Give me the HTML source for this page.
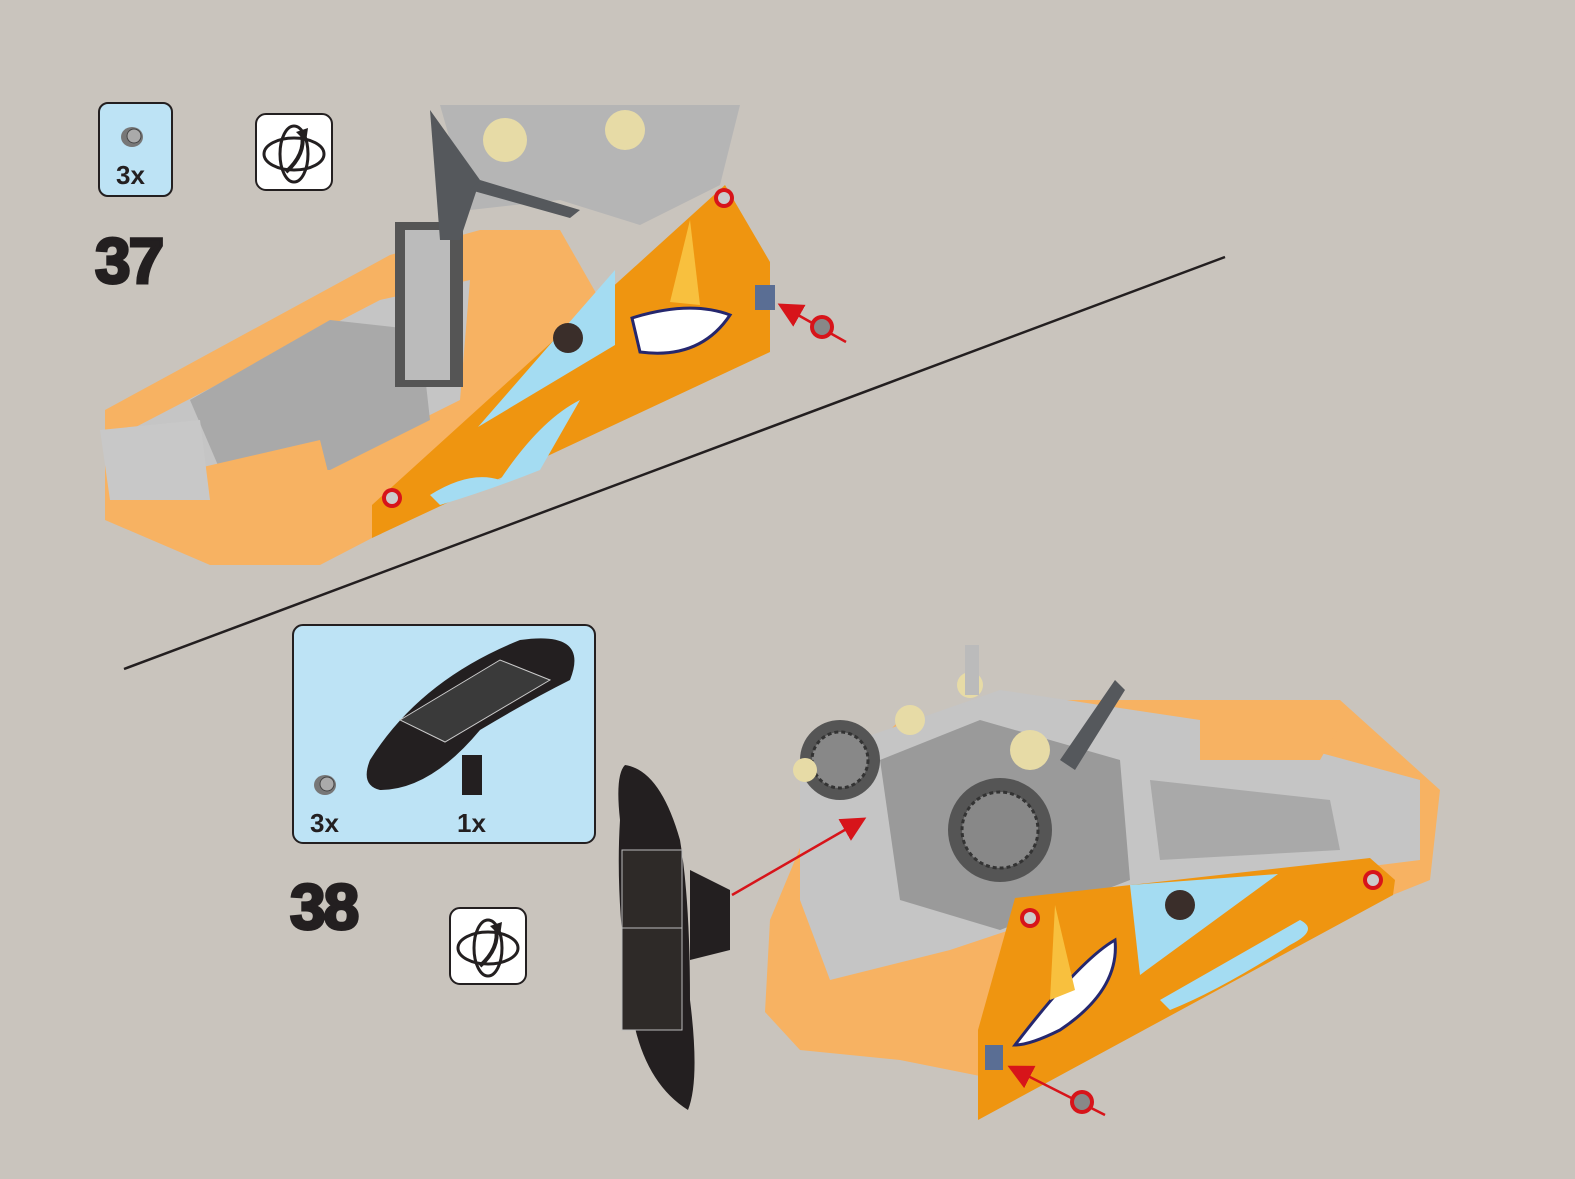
<!DOCTYPE html>
<html><head><meta charset="utf-8"><style>
html,body{margin:0;padding:0;background:#c9c4bd;}
svg{display:block}
text{font-family:"Liberation Sans",Arial,sans-serif;font-weight:bold;fill:#231f20}
</style></head><body>
<svg width="1575" height="1179" viewBox="0 0 1575 1179" xmlns="http://www.w3.org/2000/svg">
<rect width="1575" height="1179" fill="#c9c4bd"/>
<defs>
<marker id="ar" markerWidth="10" markerHeight="10" refX="8" refY="5" orient="auto"><path d="M0,0 L10,5 L0,10 z" fill="#d7141a"/></marker>
<g id="rot">
<rect x="0" y="0" width="76" height="76" rx="10" fill="#fff" stroke="#231f20" stroke-width="2"/>
<ellipse cx="38" cy="40" rx="30" ry="16" fill="none" stroke="#231f20" stroke-width="3"/>
<ellipse cx="38" cy="40" rx="14" ry="28" fill="none" stroke="#231f20" stroke-width="3"/>
<path d="M30,58 Q50,40 46,20" fill="none" stroke="#231f20" stroke-width="4"/>
<path d="M40,18 L52,14 L50,28 z" fill="#231f20"/>
</g>
<g id="bush">
<ellipse cx="0" cy="0" rx="11" ry="10" fill="#777"/>
<ellipse cx="2" cy="-1" rx="7" ry="7" fill="#aaa" stroke="#444"/>
</g>
</defs>
<line x1="124" y1="669" x2="1225" y2="257" stroke="#231f20" stroke-width="2.5"/>

<!-- Step 37 -->
<rect x="99" y="103" width="73" height="93" rx="9" fill="#bde3f5" stroke="#231f20" stroke-width="2"/>
<use href="#bush" x="132" y="137"/>
<text x="116" y="184" font-size="26">3x</text>
<use href="#rot" x="256" y="114"/>
<text x="95" y="283" font-size="64" stroke="#231f20" stroke-width="3" letter-spacing="-2">37</text>

<!-- model 37 base -->
<path d="M105,410 L390,255 L480,230 L560,230 L600,300 L372,538 L320,565 L210,565 L105,520 z" fill="#f7b262"/>
<path d="M130,430 L380,300 L470,280 L460,400 L300,480 L200,490 L130,470z" fill="#c5c5c5"/>
<path d="M190,400 L330,320 L420,330 L430,420 L330,470 L220,470z" fill="#a9a9a9"/>
<path d="M190,470 L320,440 L330,480 L260,495 L190,490z" fill="#f7b262"/>
<rect x="395" y="222" width="68" height="165" fill="#555"/>
<rect x="405" y="230" width="45" height="150" fill="#bbb"/>
<path d="M440,105 L740,105 L720,185 L640,225 L560,200 L470,210z" fill="#b5b5b5"/>
<path d="M430,110 L480,180 L460,240 L440,240z" fill="#55585c"/>
<path d="M480,180 L580,210 L570,218 L470,190z" fill="#55585c"/>
<circle cx="505" cy="140" r="22" fill="#e7dba6"/>
<circle cx="625" cy="130" r="20" fill="#e7dba6"/>
<path d="M100,430 L200,420 L210,500 L110,500z" fill="#c8c8c8"/>
<!-- orange panel 37 -->
<path d="M372,538 L372,505 L725,185 L770,262 L770,352 z" fill="#ef9510"/>
<path d="M478,427 L615,270 L615,345 z" fill="#a4dcf2"/>
<circle cx="568" cy="338" r="15" fill="#3a2e2a"/>
<path d="M632,318 Q690,300 730,315 Q700,360 640,352z" fill="#fff" stroke="#25276e" stroke-width="3"/>
<path d="M670,302 L690,220 L700,305z" fill="#f8c03e"/>
<path d="M430,495 Q470,470 500,480 Q540,420 580,400 L540,470 Q490,490 440,505z" fill="#a4dcf2"/>
<circle cx="392" cy="498" r="10" fill="#d7141a"/><circle cx="392" cy="498" r="6" fill="#ccc"/>
<circle cx="724" cy="198" r="10" fill="#d7141a"/><circle cx="724" cy="198" r="6" fill="#ccc"/>
<rect x="755" y="285" width="20" height="25" fill="#5a6e94"/>
<line x1="846" y1="342" x2="782" y2="306" stroke="#d7141a" stroke-width="2.5" marker-end="url(#ar)"/>
<circle cx="822" cy="327" r="12" fill="#d7141a"/><circle cx="822" cy="327" r="8" fill="#888"/>

<!-- Step 38 -->
<rect x="293" y="625" width="302" height="218" rx="10" fill="#bde3f5" stroke="#231f20" stroke-width="2"/>
<path d="M370,760 Q420,680 520,640 Q590,630 570,680 Q530,700 480,730 Q430,790 380,790 Q360,785 370,760z" fill="#231f20"/>
<path d="M400,720 L500,660 L550,680 L445,742z" fill="#3a3a3a" stroke="#ccc" stroke-width="1"/>
<rect x="462" y="755" width="20" height="40" fill="#231f20"/>
<use href="#bush" x="325" y="785"/>
<text x="310" y="832" font-size="26">3x</text>
<text x="457" y="832" font-size="26">1x</text>
<text x="290" y="929" font-size="64" stroke="#231f20" stroke-width="3" letter-spacing="-2">38</text>
<use href="#rot" x="450" y="908"/>

<!-- model 38 base -->
<path d="M765,1012 L770,920 L820,800 L900,720 L1050,700 L1180,700 L1340,700 L1440,790 L1430,880 L1380,900 L1000,1080 L900,1060 L800,1050z" fill="#f7b262"/>
<path d="M800,760 L1000,690 L1200,720 L1420,780 L1420,860 L1100,900 L950,950 L830,980 L800,900z" fill="#c5c5c5"/>
<path d="M880,760 L980,720 L1120,760 L1130,880 L1000,930 L900,900z" fill="#9a9a9a"/>
<path d="M1150,780 L1330,800 L1340,850 L1160,860z" fill="#a9a9a9"/>
<circle cx="840" cy="760" r="40" fill="#555"/><circle cx="840" cy="760" r="28" fill="#888" stroke="#333" stroke-width="3" stroke-dasharray="4 3"/>
<circle cx="1000" cy="830" r="52" fill="#555"/><circle cx="1000" cy="830" r="38" fill="#888" stroke="#333" stroke-width="3" stroke-dasharray="4 3"/>
<circle cx="1030" cy="750" r="20" fill="#e7dba6"/><circle cx="910" cy="720" r="15" fill="#e7dba6"/>
<circle cx="970" cy="685" r="13" fill="#e7dba6"/><circle cx="805" cy="770" r="12" fill="#e7dba6"/>
<path d="M1060,760 L1115,680 L1125,690 L1075,770z" fill="#55585c"/>
<path d="M1200,710 L1340,725 L1320,760 L1200,760z" fill="#f7b262"/>
<rect x="965" y="645" width="14" height="50" fill="#bbb"/>
<!-- solar panel -->
<path d="M625,765 Q660,770 680,840 Q690,900 690,1000 Q700,1080 688,1110 Q640,1080 630,1000 Q615,900 620,820 Q615,775 625,765z" fill="#231f20"/>
<rect x="622" y="850" width="60" height="180" fill="#2e2a28" stroke="#bbb" stroke-width="1"/>
<line x1="622" y1="928" x2="682" y2="928" stroke="#bbb"/>
<path d="M690,870 L730,890 L730,950 L690,960z" fill="#231f20"/>
<line x1="732" y1="895" x2="862" y2="820" stroke="#d7141a" stroke-width="2.5" marker-end="url(#ar)"/>
<!-- orange panel 38 -->
<path d="M978,1120 L978,1030 L1015,898 L1370,858 L1395,880 L1393,895 z" fill="#ef9510"/>
<path d="M1130,885 L1278,874 L1140,975z" fill="#a4dcf2"/>
<circle cx="1180" cy="905" r="15" fill="#3a2e2a"/>
<path d="M1015,1045 Q1080,960 1115,940 Q1120,990 1060,1030 Q1030,1045 1015,1045z" fill="#fff" stroke="#25276e" stroke-width="3"/>
<path d="M1050,1000 L1055,905 L1075,990z" fill="#f8c03e"/>
<path d="M1160,1000 Q1230,960 1300,920 Q1320,930 1290,945 Q1220,990 1170,1010z" fill="#a4dcf2"/>
<circle cx="1030" cy="918" r="10" fill="#d7141a"/><circle cx="1030" cy="918" r="6" fill="#ccc"/>
<circle cx="1373" cy="880" r="10" fill="#d7141a"/><circle cx="1373" cy="880" r="6" fill="#ccc"/>
<rect x="985" y="1045" width="18" height="25" fill="#5a6e94"/>
<line x1="1105" y1="1115" x2="1012" y2="1068" stroke="#d7141a" stroke-width="2.5" marker-end="url(#ar)"/>
<circle cx="1082" cy="1102" r="12" fill="#d7141a"/><circle cx="1082" cy="1102" r="8" fill="#888"/>
</svg>
</body></html>
